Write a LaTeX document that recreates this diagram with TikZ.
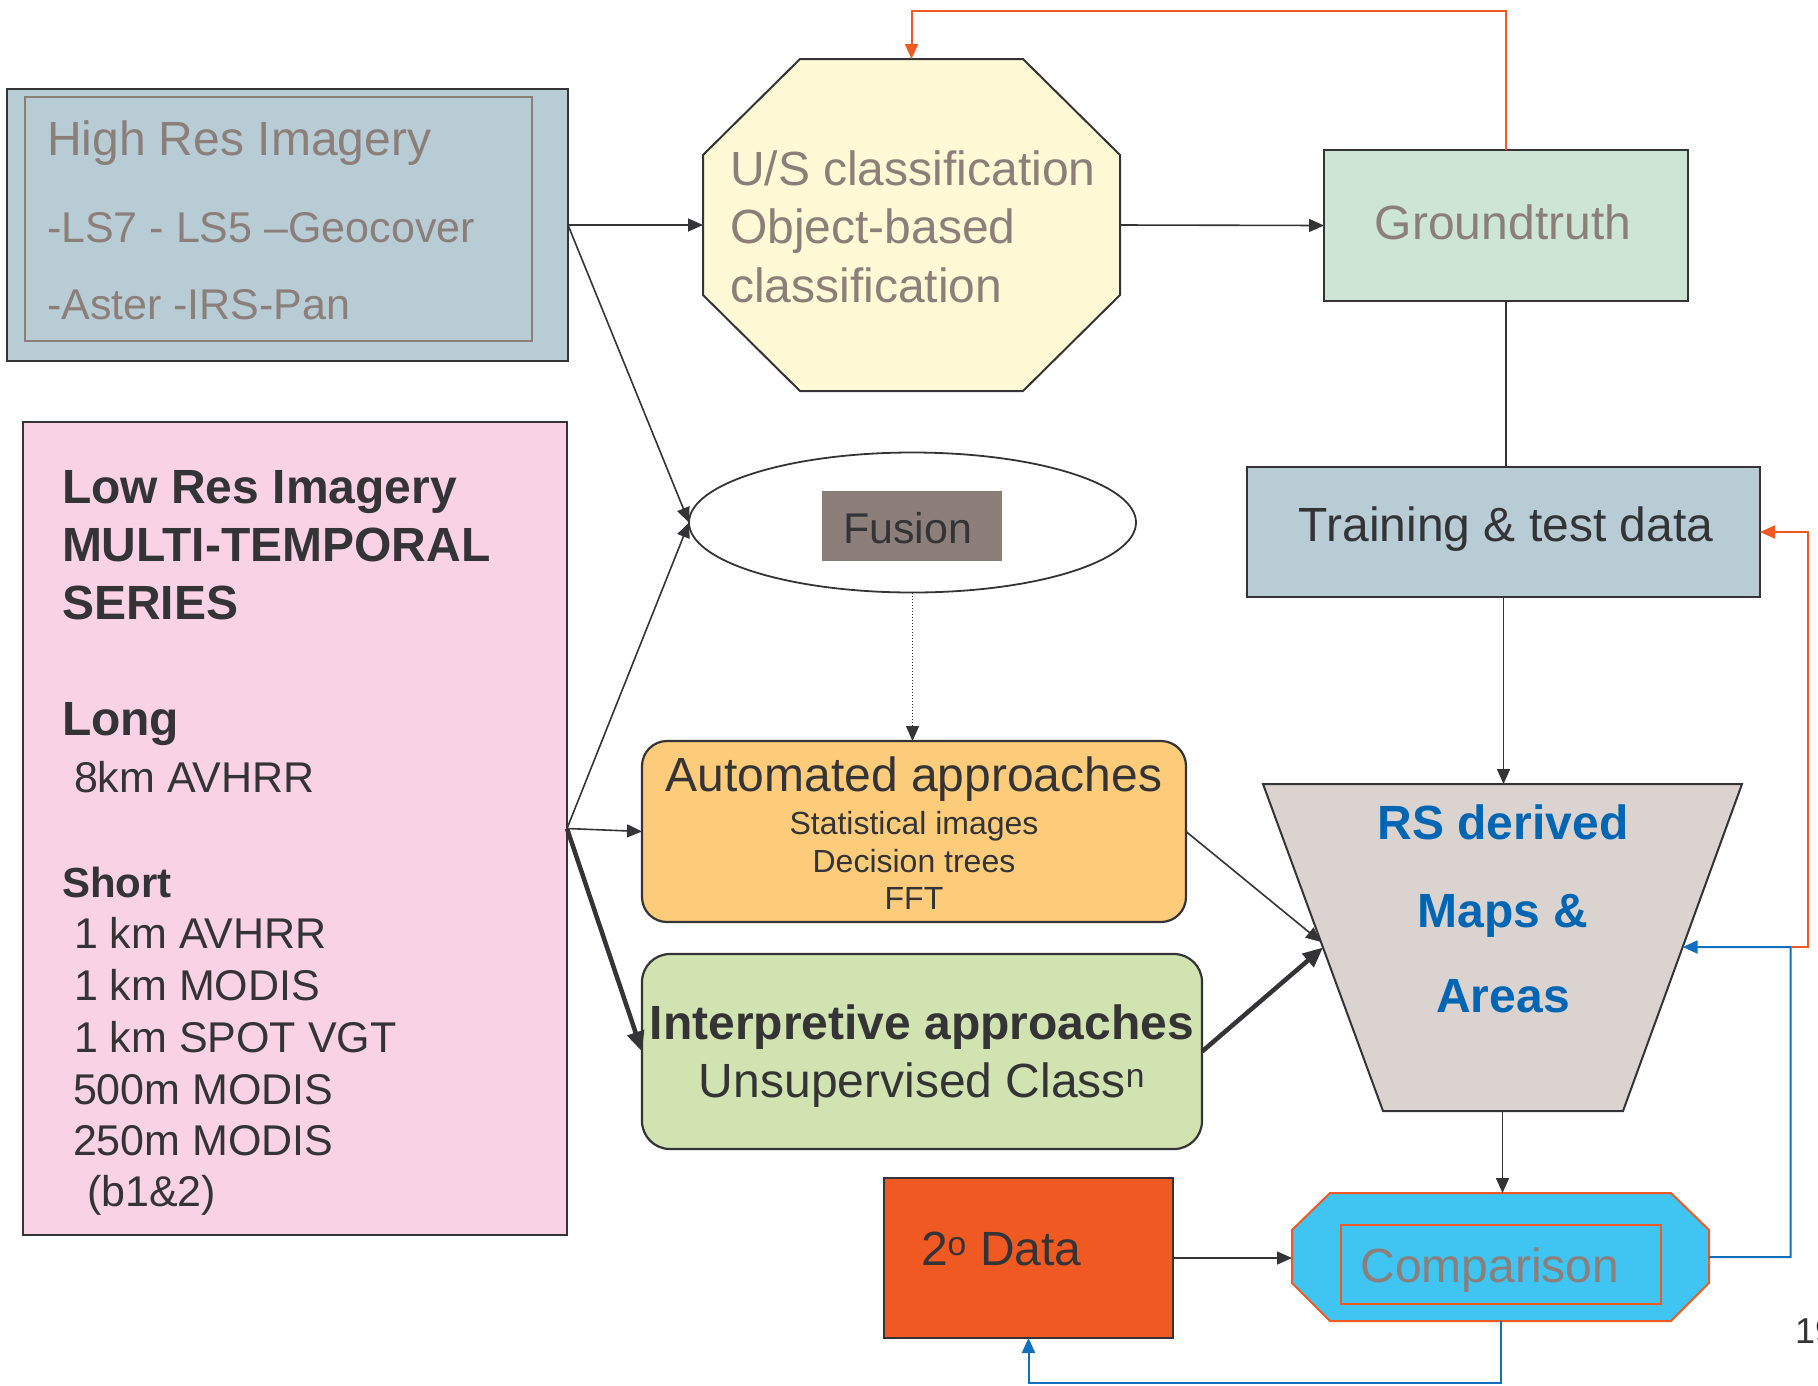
\documentclass[tikz,border=0pt]{standalone}
\usepackage{fontspec}
\setmainfont{Liberation Sans}
\usetikzlibrary{arrows.meta,shapes.geometric,calc}

\definecolor{ink}{HTML}{343437}
\definecolor{taupe}{HTML}{8C7F7A}
\definecolor{steel}{HTML}{B8CCD6}
\definecolor{pinkfill}{HTML}{F9D3E5}
\definecolor{cream}{HTML}{FFF9D6}
\definecolor{mint}{HTML}{CCE5D5}
\definecolor{apricot}{HTML}{FDCC7B}
\definecolor{sage}{HTML}{D1E3B0}
\definecolor{stone}{HTML}{DAD3D0}
\definecolor{flame}{HTML}{F05A22}
\definecolor{sky}{HTML}{40C4F2}
\definecolor{royal}{HTML}{0066B3}
\definecolor{wireblue}{HTML}{1070BE}

\begin{document}
\begin{tikzpicture}[x=1pt,y=-1pt,
  frame/.style={draw=ink,line width=2.2pt,inner sep=0pt,outer sep=0pt},
  hull/.style={inner sep=0pt,outer sep=0pt},
  txt/.style={inner sep=0pt,outer sep=0pt},
  big/.style={font=\fontsize{48}{58}\selectfont},
  mid/.style={font=\fontsize{43}{50}\selectfont},
  small/.style={font=\fontsize{32}{37}\selectfont},
  bigbold/.style={font=\fontsize{48}{58}\selectfont\bfseries},
  midbold/.style={font=\fontsize{42}{50}\selectfont\bfseries},
  tie/.style={draw=ink,line width=1.6pt},
  link/.style={draw=ink,line width=1.6pt,-{Triangle[length=15pt,width=13pt]}},
  heavy/.style={draw=ink,line width=4.5pt,-{Triangle[length=20pt,width=17pt]}},
  redlink/.style={draw=flame,line width=2pt,-{Triangle[length=15pt,width=13pt]}},
  bluelink/.style={draw=wireblue,line width=2pt,-{Triangle[length=15pt,width=13pt]}},
]
\useasboundingbox (0,0) rectangle (1818,1385);

% ---------- boxes ----------
\node[frame,fill=steel,minimum width=561pt,minimum height=272pt] (hr) at (287.5,225) {};
\node[draw=taupe,line width=1.5pt,hull,minimum width=507pt,minimum height=244pt] (hrin) at (278.5,219) {};

\node[frame,fill=pinkfill,minimum width=544pt,minimum height=813pt] (lr) at (295,828.5) {};

% octagon for the classification step
\node[hull,minimum width=417pt,minimum height=332pt] (us) at (911.5,225) {};
\draw[draw=ink,line width=2pt,fill=cream]
  ($(us.north west)+(97,0)$) -- ($(us.north east)+(-97,0)$) --
  ($(us.north east)+(0,96)$) -- ($(us.south east)+(0,-96)$) --
  ($(us.south east)+(-97,0)$) -- ($(us.south west)+(97,0)$) --
  ($(us.south west)+(0,-96)$) -- ($(us.north west)+(0,96)$) -- cycle;

\node[frame,fill=mint,minimum width=364pt,minimum height=151pt] (gt) at (1506,225.5) {};
\node[frame,fill=steel,minimum width=513pt,minimum height=130pt] (tr) at (1503.5,532) {};

\node[ellipse,draw=ink,line width=1.8pt,fill=white,hull,minimum width=447pt,minimum height=140pt] (fus) at (912.5,522.5) {};
\node[hull,fill=taupe,minimum width=180pt,minimum height=70pt] (fuslbl) at (912,526) {};

\node[frame,fill=apricot,rounded corners=25pt,minimum width=544pt,minimum height=181pt] (auto) at (914,831.5) {};
\node[frame,fill=sage,rounded corners=28pt,minimum width=560pt,minimum height=195pt] (inter) at (922,1051.5) {};

% trapezium for the derived maps
\node[hull,minimum width=479pt,minimum height=327pt] (rsd) at (1502.5,947.5) {};
\coordinate (rsdBL) at ($(rsd.south west)+(120,0)$);
\coordinate (rsdBR) at ($(rsd.south east)+(-119,0)$);
\draw[draw=ink,line width=2pt,fill=stone]
  (rsd.north west) -- (rsd.north east) -- (rsdBR) -- (rsdBL) -- cycle;
\coordinate (rsdA) at ($(rsd.north west)!0.483!(rsdBL)$);
\coordinate (rsdB) at ($(rsd.north west)!0.50!(rsdBL)$);
\coordinate (rsdR) at ($(rsd.north east)!0.4985!(rsdBR)$);

\node[frame,fill=flame,minimum width=289pt,minimum height=160pt] (two) at (1028.5,1258) {};

% comparison octagon
\node[hull,minimum width=417pt,minimum height=128pt] (cmp) at (1500.5,1257) {};
\draw[draw=flame,line width=2pt,fill=sky]
  ($(cmp.north west)+(38,0)$) -- ($(cmp.north east)+(-38,0)$) --
  ($(cmp.north east)+(0,37)$) -- ($(cmp.south east)+(0,-38)$) --
  ($(cmp.south east)+(-38,0)$) -- ($(cmp.south west)+(38,0)$) --
  ($(cmp.south west)+(0,-38)$) -- ($(cmp.north west)+(0,37)$) -- cycle;
\node[draw=flame,line width=2pt,hull,minimum width=320pt,minimum height=79pt] (cmpin) at (1501,1264.5) {};

% ---------- texts ----------
\node[txt,big,text=taupe,anchor=base west] (hr1) at (47,155) {High Res Imagery};
\node[txt,mid,text=taupe,anchor=base west] (hr2) at (47,242) {-LS7 - LS5 –Geocover};
\node[txt,mid,text=taupe,anchor=base west] (hr3) at (47,319) {-Aster -IRS-Pan};

\node[txt,bigbold,text=ink,anchor=base west] (lr1) at (62,503) {Low Res Imagery};
\node[txt,bigbold,text=ink,anchor=base west] (lr2) at (62,561) {MULTI-TEMPORAL};
\node[txt,bigbold,text=ink,anchor=base west] (lr3) at (62,619) {SERIES};
\node[txt,bigbold,text=ink,anchor=base west] (lr4) at (62,735) {Long};
\node[txt,mid,text=ink,anchor=base west] (lr5) at (74,792) {8km AVHRR};
\node[txt,midbold,text=ink,anchor=base west] (lr6) at (62,897) {Short};
\node[txt,mid,text=ink,anchor=base west] (lr7) at (74,948.5) {1 km AVHRR};
\node[txt,mid,text=ink,anchor=base west] (lr8) at (74,1000) {1 km MODIS};
\node[txt,mid,text=ink,anchor=base west] (lr9) at (74,1052) {1 km SPOT VGT};
\node[txt,mid,text=ink,anchor=base west] (lr10) at (73,1104) {500m MODIS};
\node[txt,mid,text=ink,anchor=base west] (lr11) at (73,1155.5) {250m MODIS};
\node[txt,mid,text=ink,anchor=base west] (lr12) at (87,1206) {(b1\&2)};

\node[txt,big,text=taupe,anchor=base west] (us1) at (730,185) {U/S classification};
\node[txt,big,text=taupe,anchor=base west] (us2) at (730,243.5) {Object-based};
\node[txt,big,text=taupe,anchor=base west] (us3) at (730,302) {classification};

\node[txt,big,text=taupe,anchor=base] (gt1) at (1503,239) {Groundtruth};
\node[txt,big,text=ink,anchor=base] (tr1) at (1506,541.5) {Training \& test data};
\node[txt,mid,text=ink,anchor=base west] (fus1) at (843,543) {Fusion};

\node[txt,big,text=ink,anchor=base] (au1) at (914,791) {Automated approaches};
\node[txt,small,text=ink,anchor=base] (au2) at (914,834.5) {Statistical images};
\node[txt,small,text=ink,anchor=base] (au3) at (914,872) {Decision trees};
\node[txt,small,text=ink,anchor=base] (au4) at (914,909) {FFT};

\node[txt,bigbold,text=ink,anchor=base] (in1) at (922,1039) {Interpretive approaches};
\node[txt,big,text=ink,anchor=base] (in2) at (922,1097) {Unsupervised Class\textsuperscript{n}};

\node[txt,bigbold,text=royal,anchor=base] (rs1) at (1503,839.5) {RS derived};
\node[txt,bigbold,text=royal,anchor=base] (rs2) at (1503,927) {Maps \&};
\node[txt,bigbold,text=royal,anchor=base] (rs3) at (1503,1012) {Areas};

\node[txt,big,text=taupe,anchor=base] (cmp1) at (1490,1282) {Comparison};
\node[txt,big,text=ink,anchor=base west] (two1) at (921,1265) {2\textsuperscript{o} Data};

\node[txt,font=\fontsize{36}{42}\selectfont,text=ink,anchor=base west] (pg) at (1795,1343) {19};

% ---------- connectors ----------
\draw[link] (hr.east) -- (us.west);
\draw[link] (us.east) -- (gt.west);
\draw[tie] (gt.south) -- (gt.south |- tr.north);
\draw[link] (tr.south) -- (tr.south |- rsd.north);
\draw[redlink] (gt.north) -- ++(0,-139) -| (us.north);

\draw[link] (hr.east) -- (fus.west);
\draw[link] (lr.east) -- (fus.west);
\draw[link] (lr.east) -- (auto.west);
\draw[heavy] (lr.east) -- (inter.west);
\draw[link,line width=1.2pt,dash pattern=on 1.5pt off 1.5pt] (fus.south) -- (fus.south |- auto.north);

\draw[link] (auto.east) -- (rsdA);
\draw[heavy] (inter.east) -- (rsdB);
\draw[link] (rsd.south) -- (rsd.south |- cmp.north);
\draw[link] (two.east) -- (two.east -| cmp.west);

\coordinate (jct) at (1790.5,947);
\draw[bluelink] (cmp.south) -- ++(0,62) -| (two.south);
\draw[bluelink] (cmp.east) -| (jct) -- (rsdR);
\draw[redlink] (jct) -- ++(17,0) |- (tr.east);
\end{tikzpicture}
\end{document}
